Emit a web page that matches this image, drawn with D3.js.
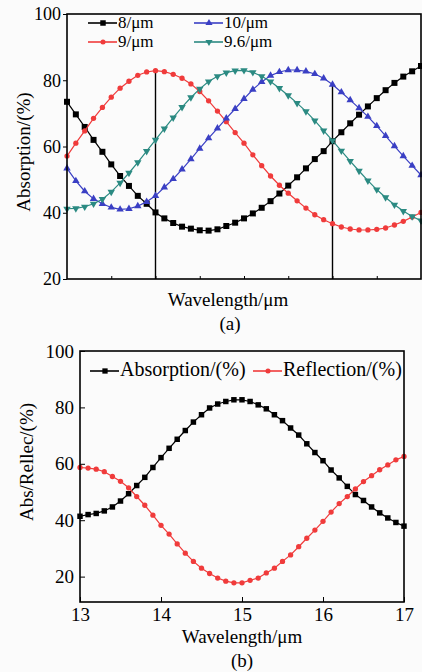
<!DOCTYPE html>
<html>
<head>
<meta charset="utf-8">
<script src="https://cdn.jsdelivr.net/npm/d3@7"></script>
<style>
  body { margin: 0; background: #fbfbfb; }
  svg { display: block; font-family: "Liberation Serif", "Times New Roman", serif; }
</style>
</head>
<body>
<div id="chart"></div>
<script>
// wavelength samples (µm), shared by both panels
var wavelengths = [13.0, 13.1, 13.2, 13.3, 13.4, 13.5, 13.6, 13.7, 13.8, 13.9,
  14.0, 14.1, 14.2, 14.3, 14.4, 14.5, 14.6, 14.7, 14.8, 14.9,
  15.0, 15.1, 15.2, 15.3, 15.4, 15.5, 15.6, 15.7, 15.8, 15.9,
  16.0, 16.1, 16.2, 16.3, 16.4, 16.5, 16.6, 16.7, 16.8, 16.9, 17.0];

// panel (a): absorption for four periods
var abs8 = [73.5, 69.7, 65.9, 62.0, 58.4, 54.6, 51.1, 48.1, 45.1, 42.7,
  40.1, 38.3, 36.9, 35.8, 35.2, 34.7, 34.6, 35.0, 36.0, 37.0,
  38.3, 39.8, 41.5, 43.5, 45.8, 48.2, 50.7, 53.4, 56.2, 58.6,
  61.6, 64.3, 67.0, 69.6, 72.1, 74.6, 77.0, 79.2, 81.1, 82.7, 84.3];
var abs9 = [57.1, 61.0, 64.7, 68.5, 71.8, 74.9, 77.6, 79.7, 81.5, 82.5,
  82.9, 82.6, 81.8, 80.6, 78.9, 76.6, 73.8, 70.7, 67.5, 64.2,
  61.0, 57.5, 54.2, 51.1, 48.3, 45.9, 43.6, 41.4, 39.4, 37.9,
  36.7, 35.7, 35.1, 34.8, 34.8, 35.0, 35.4, 36.3, 37.4, 38.7, 40.1];
var abs10 = [53.4, 49.6, 46.5, 44.2, 42.7, 41.6, 41.0, 41.2, 42.0, 43.3,
  45.1, 47.7, 50.2, 53.1, 56.2, 59.4, 62.5, 65.5, 68.5, 71.4,
  74.4, 77.2, 79.5, 81.4, 82.5, 83.1, 83.1, 82.7, 81.9, 80.6,
  78.7, 76.4, 74.0, 71.6, 69.0, 66.2, 63.2, 60.1, 57.1, 54.2, 51.4];
var abs96 = [41.2, 41.3, 41.8, 42.7, 44.1, 46.3, 49.0, 52.0, 55.2, 58.6,
  62.0, 65.4, 68.7, 71.9, 74.8, 77.4, 79.6, 81.2, 82.3, 82.9,
  83.0, 82.4, 81.2, 79.6, 77.6, 75.4, 73.1, 70.6, 67.8, 64.8,
  61.8, 58.7, 55.6, 52.6, 49.7, 47.0, 44.6, 42.4, 40.5, 38.9, 37.6];
var seriesNamesA = ["8/\u03bcm", "9/\u03bcm", "10/\u03bcm", "9.6/\u03bcm"];
var dropLines = [14, 16];

// panel (b): absorption and reflection
var absorptionB = [41.4, 42.0, 42.4, 43.3, 44.7, 46.8, 49.4, 52.3, 55.2, 58.7,
  62.2, 65.5, 68.7, 71.8, 74.8, 77.4, 79.8, 81.2, 82.1, 82.7,
  82.7, 82.1, 80.9, 79.5, 77.4, 75.3, 72.7, 70.2, 67.1, 64.0,
  61.1, 57.8, 55.0, 52.0, 49.1, 47.0, 44.7, 42.6, 40.8, 39.2, 37.9];
var reflectionB = [58.7, 58.5, 58.1, 57.2, 55.5, 53.8, 51.5, 48.4, 45.3, 41.8,
  38.2, 35.1, 31.6, 28.3, 25.4, 23.0, 21.1, 19.5, 18.4, 17.8,
  17.8, 18.7, 19.5, 21.3, 23.0, 25.4, 27.7, 30.6, 33.6, 36.5,
  39.6, 42.9, 45.9, 48.4, 51.1, 53.7, 55.8, 57.9, 59.6, 61.4, 62.6];
var seriesNamesB = ["Absorption/(%)", "Reflection/(%)"];

var yTicksA = [20, 40, 60, 80, 100],
  xTicksA = [13.5, 14, 14.5, 15, 15.5, 16, 16.5],
  yTicksB = [20, 40, 60, 80, 100],
  xTicksB = [13, 14, 15, 16, 17];

var black = "#000000", red = "#f03b3b", blue = "#3a3fc4", teal = "#2b8a82";

var svg = d3.select("#chart").append("svg")
  .attr("width", 422)
  .attr("height", 672);

function zip(ys) {
  return ys.map(function(v, i){ return { x: wavelengths[i], y: v }; });
}

function drawSeries(g, x, y, pts, color, sym, size, rot) {
  var line = d3.line().x(function(d){ return x(d.x); }).y(function(d){ return y(d.y); });
  g.append("path").datum(pts)
    .attr("d", line)
    .attr("fill", "none")
    .attr("stroke", color)
    .attr("stroke-width", 1.2);
  g.selectAll(null).data(pts).enter().append("path")
    .attr("d", d3.symbol().type(sym).size(size))
    .attr("transform", function(d){ return "translate(" + x(d.x) + "," + y(d.y) + ")" + (rot ? " rotate(180)" : ""); })
    .attr("fill", color);
}

function legendItem(g, lx, ly, color, sym, size, rot, label, fs) {
  g.append("line")
    .attr("x1", lx).attr("x2", lx + 29)
    .attr("y1", ly).attr("y2", ly)
    .attr("stroke", color).attr("stroke-width", 1.6);
  g.append("path")
    .attr("d", d3.symbol().type(sym).size(size))
    .attr("transform", "translate(" + (lx + 15) + "," + ly + ")" + (rot ? " rotate(180)" : ""))
    .attr("fill", color);
  g.append("text")
    .attr("x", lx + 30).attr("y", ly + 5)
    .attr("font-size", fs)
    .text(label);
}

// ---------- panel (a) ----------
var xA = d3.scaleLinear().domain([13, 17]).range([67, 421]);
var yA = d3.scaleLinear().domain([20, 100]).range([279, 14]);
var gA = svg.append("g");

gA.append("g")
  .attr("transform", "translate(67,0)")
  .call(d3.axisLeft(yA).tickValues(yTicksA).tickSize(4).tickPadding(2))
  .call(function(a){ a.select(".domain").remove(); })
  .selectAll("text").attr("font-size", 18).attr("font-family", "Liberation Serif").attr("fill", "#000");

gA.append("g")
  .attr("transform", "translate(0,279)")
  .call(d3.axisBottom(xA).tickValues(xTicksA).tickSize(-3).tickFormat(""))
  .call(function(a){ a.select(".domain").remove(); });

gA.selectAll(".drop").data(dropLines).enter().append("line")
  .attr("class", "drop")
  .attr("x1", function(d){ return xA(d); })
  .attr("x2", function(d){ return xA(d); })
  .attr("y1", function(d){
    var i = wavelengths.indexOf(d);
    return yA(Math.max(abs8[i], abs9[i], abs10[i], abs96[i]));
  })
  .attr("y2", 279)
  .attr("stroke", black)
  .attr("stroke-width", 1.4);

drawSeries(gA, xA, yA, zip(abs8), black, d3.symbolSquare, 36, false);
drawSeries(gA, xA, yA, zip(abs9), red, d3.symbolCircle, 22, false);
drawSeries(gA, xA, yA, zip(abs10), blue, d3.symbolTriangle, 24, false);
drawSeries(gA, xA, yA, zip(abs96), teal, d3.symbolTriangle, 24, true);

gA.append("rect")
  .attr("x", 67).attr("y", 14)
  .attr("width", 354).attr("height", 265)
  .attr("fill", "none")
  .attr("stroke", black)
  .attr("stroke-width", 1.6);

legendItem(gA, 88, 23, black, d3.symbolSquare, 30, false, seriesNamesA[0], 17);
legendItem(gA, 88, 42, red, d3.symbolCircle, 20, false, seriesNamesA[1], 17);
legendItem(gA, 194, 23, blue, d3.symbolTriangle, 22, false, seriesNamesA[2], 17);
legendItem(gA, 194, 42, teal, d3.symbolTriangle, 22, true, seriesNamesA[3], 17);

gA.append("text")
  .attr("transform", "rotate(-90)")
  .attr("x", -152).attr("y", 30)
  .attr("text-anchor", "middle")
  .attr("font-size", 19)
  .text("Absorption/(%)");

gA.append("text")
  .attr("x", 228).attr("y", 306)
  .attr("text-anchor", "middle")
  .attr("font-size", 19)
  .text("Wavelength/\u03bcm");

gA.append("text")
  .attr("x", 230).attr("y", 330)
  .attr("text-anchor", "middle")
  .attr("font-size", 19)
  .text("(a)");

// ---------- panel (b) ----------
var xB = d3.scaleLinear().domain([13, 17]).range([80, 404]);
var yB = d3.scaleLinear().domain([11, 100]).range([602, 351]);
var gB = svg.append("g");

gB.append("g")
  .attr("transform", "translate(80,0)")
  .call(d3.axisLeft(yB).tickValues(yTicksB).tickSize(-5).tickPadding(6))
  .call(function(a){ a.select(".domain").remove(); })
  .selectAll("text").attr("font-size", 19).attr("font-family", "Liberation Serif").attr("fill", "#000");

gB.append("g")
  .attr("transform", "translate(0,602)")
  .call(d3.axisBottom(xB).tickValues(xTicksB).tickSize(-5).tickPadding(6).tickFormat(d3.format("d")))
  .call(function(a){ a.select(".domain").remove(); })
  .selectAll("text").attr("font-size", 19).attr("font-family", "Liberation Serif").attr("fill", "#000");

drawSeries(gB, xB, yB, zip(absorptionB), black, d3.symbolSquare, 30, false);
drawSeries(gB, xB, yB, zip(reflectionB), red, d3.symbolCircle, 22, false);

gB.append("rect")
  .attr("x", 80).attr("y", 351)
  .attr("width", 324).attr("height", 251)
  .attr("fill", "none")
  .attr("stroke", black)
  .attr("stroke-width", 1.6);

legendItem(gB, 90, 371, black, d3.symbolSquare, 28, false, seriesNamesB[0], 20);
legendItem(gB, 253, 371, red, d3.symbolCircle, 20, false, seriesNamesB[1], 20);

gB.append("text")
  .attr("transform", "rotate(-90)")
  .attr("x", -462).attr("y", 33)
  .attr("text-anchor", "middle")
  .attr("font-size", 19)
  .text("Abs/Rellec/(%)");

gB.append("text")
  .attr("x", 242).attr("y", 643)
  .attr("text-anchor", "middle")
  .attr("font-size", 19)
  .text("Wavelength/\u03bcm");

gB.append("text")
  .attr("x", 242).attr("y", 667)
  .attr("text-anchor", "middle")
  .attr("font-size", 19)
  .text("(b)");
</script>
</body>
</html>
